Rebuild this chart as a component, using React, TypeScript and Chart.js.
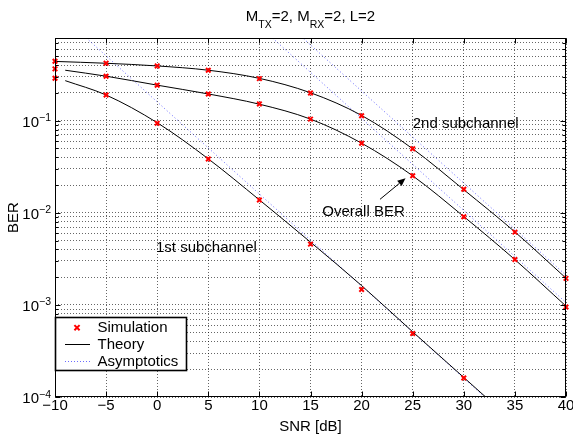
import React, { useEffect, useRef } from 'react';
import { Chart, registerables } from 'chart.js';

Chart.register(...registerables);

// ---- data ----
const snrSim = [-10, -5, 0, 5, 10, 15, 20, 25, 30, 35, 40];
const simSub2 = [0.442, 0.421, 0.393, 0.353, 0.286, 0.2, 0.113, 0.0496, 0.018, 0.00617, 0.00194];
const simOverall = [0.365, 0.304, 0.243, 0.195, 0.152, 0.104, 0.0568, 0.0252, 0.00905, 0.00311, 0.00095];
const snrSimSub1 = [-10, -5, 0, 5, 10, 15, 20, 25, 30];
const simSub1 = [0.289, 0.19, 0.0937, 0.0383, 0.01375, 0.00457, 0.00147, 0.000489, 0.000161];

const snrTheorySub2 = [-10, -5, 0, 5, 10, 15, 20, 25, 30, 35, 40];
const theorySub2 = [0.44, 0.42, 0.393, 0.353, 0.288, 0.201, 0.114, 0.0495, 0.0178, 0.0062, 0.00195];
const snrTheoryOverall = [-9, -5, 0, 5, 10, 15, 20, 25, 30, 35, 40];
const theoryOverall = [0.353, 0.304, 0.243, 0.195, 0.151, 0.104, 0.057, 0.0252, 0.0091, 0.0031, 0.00097];
const snrTheorySub1 = [-9, -5, 0, 5, 10, 15, 20, 25, 30, 35];
const theorySub1 = [0.272, 0.19, 0.095, 0.0385, 0.0138, 0.0048, 0.00162, 0.00051, 0.000163, 0.000052];

const snrAsymSub1 = [-10, 0, 10, 20, 30, 40];
const asymSub1 = [1.6, 0.16, 0.016, 0.0016, 0.00016, 0.000016];
const snrAsymHigh = [10, 20, 30, 40];
const asymOverall = [1.06, 0.106, 0.0106, 0.00106];
const asymSub2 = [2.1, 0.21, 0.021, 0.0021];

const xTickValues = [-10, -5, 0, 5, 10, 15, 20, 25, 30, 35, 40];
const xTickLabels = ['\u221210', '\u22125', '0', '5', '10', '15', '20', '25', '30', '35', '40'];
const yDecades = [1e-4, 1e-3, 1e-2, 1e-1];
const yDecadeExponents = ['\u22124', '\u22123', '\u22122', '\u22121'];
const yMantissas = [1, 2, 3, 4, 5, 6, 7, 8, 9];
const yMin = 1e-4;
const yMax = 0.79;

const titleParts: [string, boolean][] = [
  ['M', false], ['TX', true], ['=2, M', false], ['RX', true], ['=2, L=2', false],
];
const xAxisTitle = 'SNR [dB]';
const yAxisTitle = 'BER';
const legendItems = ['Simulation', 'Theory', 'Asymptotics'];

// annotations in data coordinates
const annotations = [
  { text: '2nd subchannel', x: 25.0, y: 0.092 },
  { text: 'Overall BER', x: 16.15, y: 0.01025 },
  { text: '1st subchannel', x: -0.12, y: 0.0042 },
];
const arrowFrom = { x: 21.8, y: 0.014 };
const arrowTo = { x: 24.3, y: 0.0237 };

// ---- style ----
const FAM = '"Liberation Sans", Arial, Helvetica, sans-serif';
const f = (px: number) => `${px}px ${FAM}`;
const MAIN = 15;
const SMALL = 10.5;
const RED = '#ff0000';
const ASYM = 'rgba(70,70,255,0.8)';

const xy = (xs: number[], ys: number[]) => xs.map((x, i) => ({ x, y: ys[i] }));

const yTickValues: number[] = [];
for (const d of yDecades) for (const m of yMantissas) {
  const v = m * d;
  if (v <= yMax + 1e-12) yTickValues.push(v);
}

function drawCross(ctx: CanvasRenderingContext2D, x: number, y: number, r: number) {
  ctx.beginPath();
  ctx.moveTo(x - r, y - r); ctx.lineTo(x + r, y + r);
  ctx.moveTo(x - r, y + r); ctx.lineTo(x + r, y - r);
  ctx.stroke();
}

const overlay = {
  id: 'matlabOverlay',
  afterDraw(chart: any) {
    const { ctx, chartArea: a, scales } = chart;
    const xs = scales.x, ys = scales.y;
    ctx.save();
    // box
    const L = Math.round(a.left) + 0.5, R = Math.round(a.right) - 0.5;
    const T = Math.round(a.top) + 0.5, B = Math.round(a.bottom) - 0.5;
    ctx.strokeStyle = '#000';
    ctx.lineWidth = 1;
    ctx.setLineDash([]);
    ctx.strokeRect(L, T, R - L, B - T);
    // ticks
    ctx.beginPath();
    for (const v of xTickValues) {
      const px = Math.round(xs.getPixelForValue(v)) + 0.5;
      ctx.moveTo(px, B); ctx.lineTo(px, B - 5);
      ctx.moveTo(px, T); ctx.lineTo(px, T + 5);
    }
    for (const v of yTickValues) {
      const py = Math.round(ys.getPixelForValue(v)) + 0.5;
      const major = yDecades.some((d) => Math.abs(d - v) / d < 1e-9);
      const len = major ? 5 : 3;
      ctx.moveTo(L, py); ctx.lineTo(L + len, py);
      ctx.moveTo(R, py); ctx.lineTo(R - len, py);
    }
    ctx.stroke();

    ctx.fillStyle = '#000';
    // x tick labels
    ctx.font = f(MAIN);
    ctx.textAlign = 'center';
    ctx.textBaseline = 'alphabetic';
    xTickValues.forEach((v, i) => {
      ctx.fillText(xTickLabels[i], xs.getPixelForValue(v), a.bottom + 12.5);
    });
    // y tick labels 10^k
    yDecades.forEach((v, i) => {
      const py = ys.getPixelForValue(v);
      const right = a.left - 4;
      ctx.font = f(SMALL);
      const supW = ctx.measureText(yDecadeExponents[i]).width;
      ctx.textAlign = 'left';
      ctx.fillText(yDecadeExponents[i], right - supW, py + 0.5);
      ctx.font = f(MAIN);
      const tenW = ctx.measureText('10').width;
      ctx.fillText('10', right - supW - tenW, py + 6);
    });
    // axis titles
    ctx.font = f(MAIN);
    ctx.textAlign = 'center';
    ctx.fillText(xAxisTitle, (a.left + a.right) / 2, 431);
    ctx.save();
    ctx.translate(18, (a.top + a.bottom) / 2);
    ctx.rotate(-Math.PI / 2);
    ctx.fillText(yAxisTitle, 0, 0);
    ctx.restore();
    // title with subscripts
    let total = 0;
    for (const [t, sub] of titleParts) {
      ctx.font = f(sub ? SMALL : MAIN);
      total += ctx.measureText(t).width;
    }
    let tx = (a.left + a.right) / 2 - total / 2;
    ctx.textAlign = 'left';
    for (const [t, sub] of titleParts) {
      ctx.font = f(sub ? SMALL : MAIN);
      ctx.fillText(t, tx, sub ? 28.3 : 20.7);
      tx += ctx.measureText(t).width;
    }
    // annotations
    ctx.font = f(MAIN);
    ctx.textBaseline = 'middle';
    for (const an of annotations) {
      ctx.fillText(an.text, xs.getPixelForValue(an.x), ys.getPixelForValue(an.y));
    }
    // arrow
    const x1 = xs.getPixelForValue(arrowFrom.x), y1 = ys.getPixelForValue(arrowFrom.y);
    const x2 = xs.getPixelForValue(arrowTo.x), y2 = ys.getPixelForValue(arrowTo.y);
    const ang = Math.atan2(y2 - y1, x2 - x1);
    const hl = 8, hw = 3.5;
    const bx = x2 - hl * Math.cos(ang), by = y2 - hl * Math.sin(ang);
    ctx.beginPath();
    ctx.moveTo(x1, y1); ctx.lineTo(bx, by);
    ctx.stroke();
    ctx.beginPath();
    ctx.moveTo(x2, y2);
    ctx.lineTo(bx + hw * Math.sin(ang), by - hw * Math.cos(ang));
    ctx.lineTo(bx - hw * Math.sin(ang), by + hw * Math.cos(ang));
    ctx.closePath();
    ctx.fill();

    // legend
    const lx = 55.5, ly = 317.5, lw = 131, lh = 53;
    ctx.fillStyle = '#fff';
    ctx.fillRect(lx, ly, lw, lh);
    ctx.strokeStyle = '#000';
    ctx.lineWidth = 1.6;
    ctx.strokeRect(lx, ly, lw, lh);
    const rows = [327.7, 344.3, 361];
    // simulation marker
    ctx.strokeStyle = RED; ctx.lineWidth = 2;
    drawCross(ctx, 77, rows[0], 2.6);
    // theory line
    ctx.strokeStyle = '#000'; ctx.lineWidth = 1;
    ctx.beginPath(); ctx.moveTo(65, Math.round(rows[1]) + 0.5); ctx.lineTo(90, Math.round(rows[1]) + 0.5); ctx.stroke();
    // asymptotics line
    ctx.strokeStyle = ASYM; ctx.setLineDash([1, 2]);
    ctx.beginPath(); ctx.moveTo(65, Math.round(rows[2]) + 0.5); ctx.lineTo(90, Math.round(rows[2]) + 0.5); ctx.stroke();
    ctx.setLineDash([]);
    ctx.fillStyle = '#000';
    ctx.font = f(MAIN);
    ctx.textAlign = 'left';
    ctx.textBaseline = 'middle';
    legendItems.forEach((t, i) => ctx.fillText(t, 97.5, rows[i] + 0.5));
    ctx.restore();
  },
};

export default function App() {
  const ref = useRef<HTMLCanvasElement>(null);
  useEffect(() => {
    const canvas = ref.current!;
    const simStyle = {
      showLine: false,
      pointStyle: 'crossRot',
      pointRadius: 3.2,
      pointBorderWidth: 2,
      borderColor: RED,
      backgroundColor: RED,
      clip: false as any,
    };
    const theoryStyle = {
      borderColor: '#000',
      borderWidth: 1,
      pointRadius: 0,
      cubicInterpolationMode: 'monotone' as const,
      fill: false,
    };
    const asymStyle = {
      borderColor: ASYM,
      borderWidth: 1,
      borderDash: [1, 2.5],
      pointRadius: 0,
      fill: false,
    };
    const chart = new Chart(canvas, {
      type: 'line',
      data: {
        datasets: [
          { label: 'Simulation 2nd', data: xy(snrSim, simSub2), ...simStyle },
          { label: 'Simulation overall', data: xy(snrSim, simOverall), ...simStyle },
          { label: 'Simulation 1st', data: xy(snrSimSub1, simSub1), ...simStyle },
          { label: 'Theory 2nd', data: xy(snrTheorySub2, theorySub2), ...theoryStyle },
          { label: 'Theory overall', data: xy(snrTheoryOverall, theoryOverall), ...theoryStyle },
          { label: 'Theory 1st', data: xy(snrTheorySub1, theorySub1), ...theoryStyle },
          { label: 'Asymptotics 2nd', data: xy(snrAsymHigh, asymSub2), ...asymStyle },
          { label: 'Asymptotics overall', data: xy(snrAsymHigh, asymOverall), ...asymStyle },
          { label: 'Asymptotics 1st', data: xy(snrAsymSub1, asymSub1), ...asymStyle },
        ] as any,
      },
      options: {
        animation: false,
        responsive: false,
        devicePixelRatio: 1,
        layout: { padding: { left: 55, right: 7, top: 38, bottom: 37 } },
        plugins: { legend: { display: false }, title: { display: false }, tooltip: { enabled: false } },
        scales: {
          x: {
            type: 'linear',
            min: -10,
            max: 40,
            afterBuildTicks: (s: any) => { s.ticks = xTickValues.map((value) => ({ value })); },
            ticks: { display: false },
            grid: { color: 'rgba(0,0,0,0.6)', lineWidth: 1, drawTicks: false, tickLength: 0 },
            border: { display: false, dash: [1, 2] },
          },
          y: {
            type: 'logarithmic',
            min: yMin,
            max: yMax,
            afterBuildTicks: (s: any) => { s.ticks = yTickValues.map((value) => ({ value })); },
            ticks: { display: false },
            grid: { color: 'rgba(0,0,0,0.6)', lineWidth: 1, drawTicks: false, tickLength: 0 },
            border: { display: false, dash: [1, 2] },
          },
        },
      } as any,
      plugins: [overlay],
    });
    return () => chart.destroy();
  }, []);
  return (
    <div style={{ position: 'fixed', left: 0, top: 0, width: 573, height: 434, background: '#fff' }}>
      <canvas ref={ref} width={573} height={434} style={{ display: 'block' }} />
    </div>
  );
}
